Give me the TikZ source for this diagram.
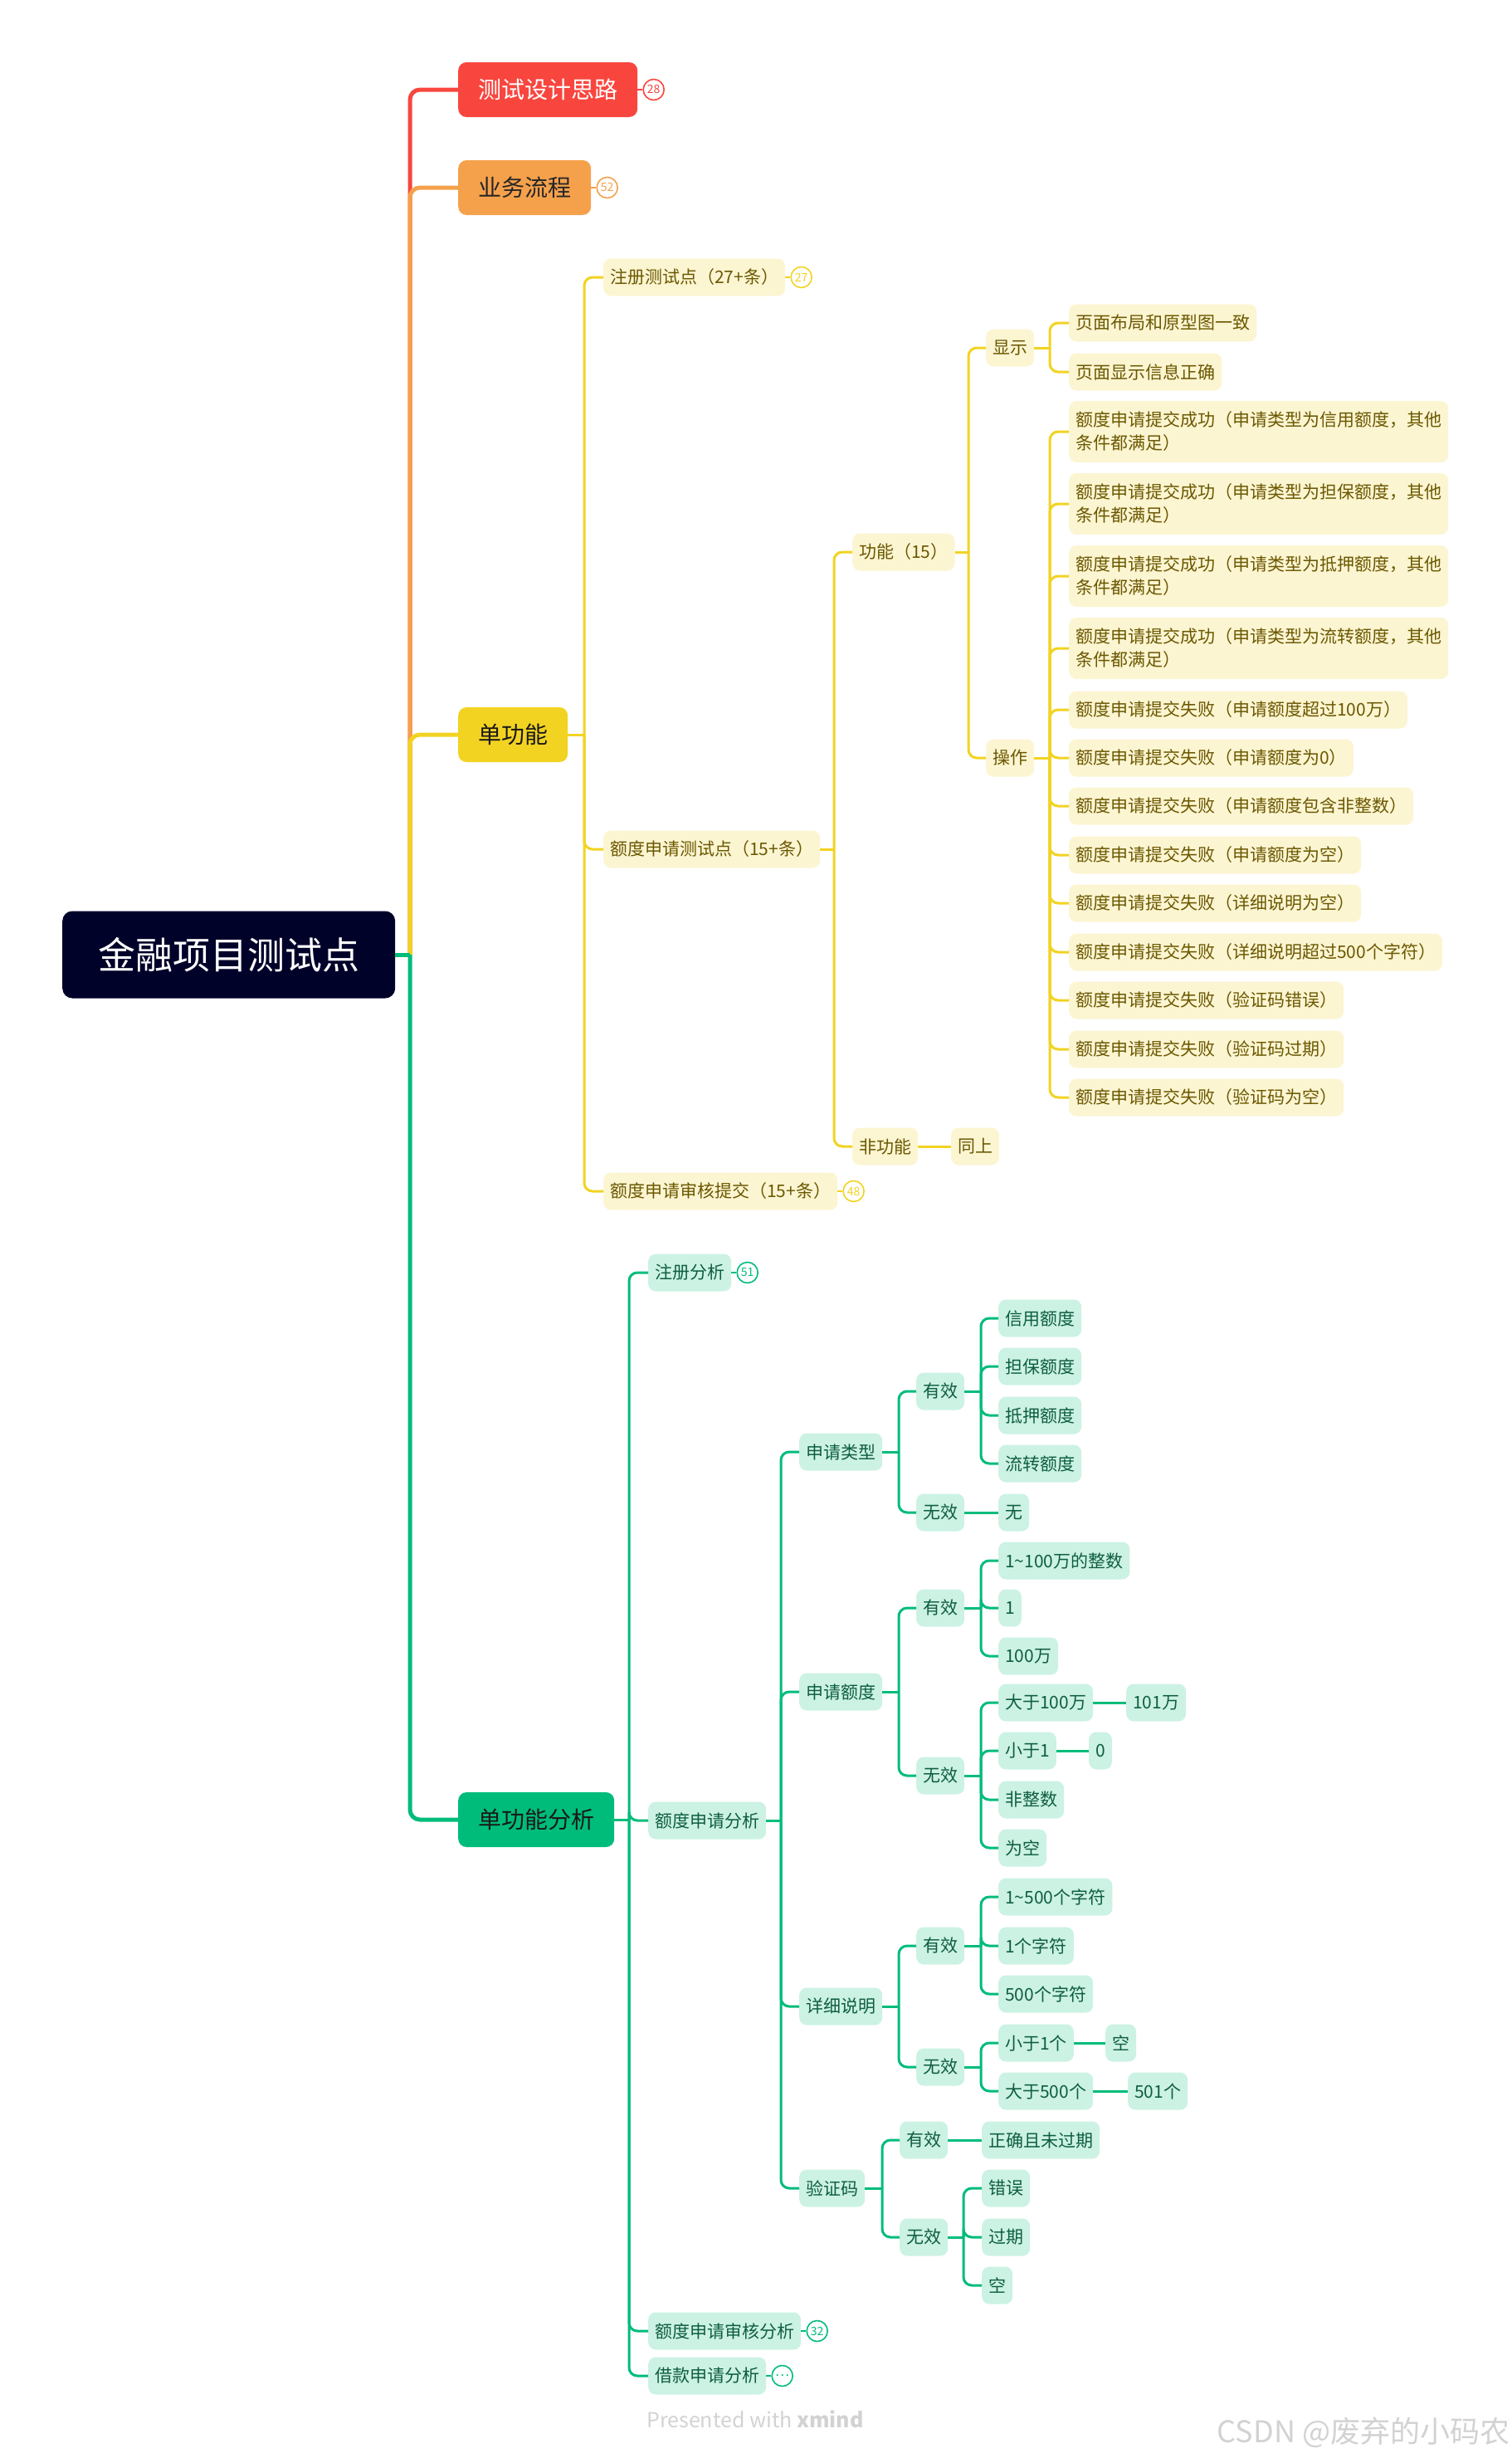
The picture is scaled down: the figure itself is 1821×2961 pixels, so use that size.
\documentclass[tikz,border=0pt]{standalone}
\usepackage{fontspec}
\setmainfont{Noto Sans CJK SC}
\usetikzlibrary{positioning}

\definecolor{rootc}{HTML}{000229}
\definecolor{redc}{HTML}{F8463F}
\definecolor{orgc}{HTML}{F5A14C}
\definecolor{ylwc}{HTML}{F2D322}
\definecolor{grnc}{HTML}{00BC7B}
\definecolor{yfill}{HTML}{FCF5D2}
\definecolor{ytext}{HTML}{6B5800}
\definecolor{gfill}{HTML}{CCF2E4}
\definecolor{gtext}{HTML}{0E5E41}
\definecolor{footc}{HTML}{D2D2D2}

\tikzset{
  every node/.style={font=\fontsize{21}{28}\selectfont},
  rootbox/.style={anchor=west, fill=rootc, text=white, rounded corners=12, minimum height=105, inner xsep=43, font=\fontsize{45}{54}\selectfont},
  mtopic/.style={anchor=west, fill=#1, rounded corners=10, minimum height=66, inner xsep=24, font=\fontsize{28}{34}\selectfont},
  ybox/.style={anchor=west, fill=yfill, text=ytext, rounded corners=9, minimum height=45, inner xsep=8, inner ysep=4},
  ymulti/.style={ybox, align=left, minimum height=74},
  gbox/.style={anchor=west, fill=gfill, text=gtext, rounded corners=9, minimum height=45, inner xsep=8, inner ysep=4},
  badge/.style={circle, draw=#1, fill=white, text=#1, line width=1.6, minimum size=25, inner sep=0, font=\fontsize{14}{14}\selectfont},
  mline/.style={draw=#1, line width=5, rounded corners=12},
  yline/.style={draw=ylwc, line width=3, rounded corners=10},
  gline/.style={draw=grnc, line width=3, rounded corners=10}
}

\begin{document}
\begin{tikzpicture}[x=1pt,y=-1pt]
\useasboundingbox (0,0) rectangle (1821,2961);

% root and main topics
\node[rootbox] (fin) at (75,1150) {金融项目测试点};
\node[mtopic=redc, text=white] (tsd) at (552,108) {测试设计思路};
\node[mtopic=orgc, text=black!85] (ywlc) at (552,226) {业务流程};
\node[mtopic=ylwc, text=black!90] (dgn) at (552,885) {单功能};
\node[mtopic=grnc, text=black!90] (dgnfx) at (552,2192) {单功能分析};
\node[badge=redc, right=6pt of tsd] (b28) {28};
\node[badge=orgc, right=6pt of ywlc] (b52) {52};

\coordinate (finj) at (494,1150);
\draw[mline=redc] (finj) |- (tsd.west);
\draw[mline=orgc] (finj) |- (ywlc.west);
\draw[mline=ylwc] (finj) |- (dgn.west);
\draw[mline=grnc] (finj) |- (dgnfx.west);
\draw[draw=grnc, line width=5] (fin.east) -- (finj);
\draw[draw=redc, line width=2.5] (tsd.east) -- (b28);
\draw[draw=orgc, line width=2.5] (ywlc.east) -- (b52);

% 单功能
\node[ybox] (zcc) at (727,334) {注册测试点（27+条）};
\node[ybox] (edc) at (727,1023) {额度申请测试点（15+条）};
\node[ybox] (eds) at (727,1435) {额度申请审核提交（15+条）};
\node[badge=ylwc, right=6pt of zcc] (b27) {27};
\node[badge=ylwc, right=6pt of eds] (b48) {48};
\draw[draw=ylwc, line width=2.5] (zcc.east) -- (b27);
\draw[draw=ylwc, line width=2.5] (eds.east) -- (b48);

\node[ybox] (gn) at (1027,665) {功能（15）};
\node[ybox] (fgn) at (1027,1381) {非功能};
\node[ybox] (ts) at (1146,1381) {同上};
\node[ybox] (xs) at (1188,419) {显示};
\node[ybox] (cz) at (1188,913) {操作};

\node[ybox] (xs1) at (1288,389) {页面布局和原型图一致};
\node[ybox] (xs2) at (1288,448) {页面显示信息正确};

\node[ymulti] (cz1) at (1288,520) {额度申请提交成功（申请类型为信用额度，其他\\条件都满足）};
\node[ymulti] (cz2) at (1288,607) {额度申请提交成功（申请类型为担保额度，其他\\条件都满足）};
\node[ymulti] (cz3) at (1288,694) {额度申请提交成功（申请类型为抵押额度，其他\\条件都满足）};
\node[ymulti] (cz4) at (1288,781) {额度申请提交成功（申请类型为流转额度，其他\\条件都满足）};
\node[ybox] (cz5) at (1288,855) {额度申请提交失败（申请额度超过100万）};
\node[ybox] (cz6) at (1288,913) {额度申请提交失败（申请额度为0）};
\node[ybox] (cz7) at (1288,971) {额度申请提交失败（申请额度包含非整数）};
\node[ybox] (cz8) at (1288,1030) {额度申请提交失败（申请额度为空）};
\node[ybox] (cz9) at (1288,1088) {额度申请提交失败（详细说明为空）};
\node[ybox] (cz10) at (1288,1147) {额度申请提交失败（详细说明超过500个字符）};
\node[ybox] (cz11) at (1288,1205) {额度申请提交失败（验证码错误）};
\node[ybox] (cz12) at (1288,1264) {额度申请提交失败（验证码过期）};
\node[ybox] (cz13) at (1288,1322) {额度申请提交失败（验证码为空）};

\coordinate (dgnj) at (704,885);
\coordinate (edcj) at (1005,1023);
\coordinate (gnj) at (1167,665);
\coordinate (xsj) at (1265,419);
\coordinate (czj) at (1265,913);
\draw[yline] (dgn.east) -- (dgnj);
\foreach \c in {zcc,edc,eds} \draw[yline] (dgnj) |- (\c.west);
\draw[yline] (edc.east) -- (edcj);
\foreach \c in {gn,fgn} \draw[yline] (edcj) |- (\c.west);
\draw[yline] (gn.east) -- (gnj);
\foreach \c in {xs,cz} \draw[yline] (gnj) |- (\c.west);
\draw[yline] (xs.east) -- (xsj);
\foreach \c in {xs1,xs2} \draw[yline] (xsj) |- (\c.west);
\draw[yline] (cz.east) -- (czj);
\foreach \c in {cz1,cz2,cz3,cz4,cz5,cz6,cz7,cz8,cz9,cz10,cz11,cz12,cz13} \draw[yline] (czj) |- (\c.west);
\draw[yline] (fgn) -- (ts);

% 单功能分析
\node[gbox] (zcfx) at (781,1533) {注册分析};
\node[gbox] (edfx) at (781,2193) {额度申请分析};
\node[gbox] (edsh) at (781,2808) {额度申请审核分析};
\node[gbox] (jkfx) at (781,2862) {借款申请分析};
\node[badge=grnc, right=6pt of zcfx] (b51) {51};
\node[badge=grnc, right=6pt of edsh] (b32) {32};
\node[badge=grnc, right=6pt of jkfx, font=\fontsize{16}{16}\selectfont] (bmore) {…};
\draw[draw=grnc, line width=2.5] (zcfx.east) -- (b51);
\draw[draw=grnc, line width=2.5] (edsh.east) -- (b32);
\draw[draw=grnc, line width=2.5] (jkfx.east) -- (bmore);

\node[gbox] (sqlx) at (963,1749) {申请类型};
\node[gbox] (sqed) at (963,2038) {申请额度};
\node[gbox] (xxsm) at (963,2417) {详细说明};
\node[gbox] (yzm) at (963,2636) {验证码};

\node[gbox] (lxyx) at (1104,1676) {有效};
\node[gbox] (lxwx) at (1104,1822) {无效};
\node[gbox] (lxyx1) at (1203,1588) {信用额度};
\node[gbox] (lxyx2) at (1203,1646) {担保额度};
\node[gbox] (lxyx3) at (1203,1705) {抵押额度};
\node[gbox] (lxyx4) at (1203,1763) {流转额度};
\node[gbox] (lxwx1) at (1203,1822) {无};

\node[gbox] (edyx) at (1104,1937) {有效};
\node[gbox] (edwx) at (1104,2139) {无效};
\node[gbox] (edyx1) at (1203,1880) {1\textasciitilde100万的整数};
\node[gbox] (edyx2) at (1203,1937) {1};
\node[gbox] (edyx3) at (1203,1995) {100万};
\node[gbox] (edwx1) at (1203,2051) {大于100万};
\node[gbox] (edwx1b) at (1357,2051) {101万};
\node[gbox] (edwx2) at (1203,2109) {小于1};
\node[gbox] (edwx2b) at (1312,2109) {0};
\node[gbox] (edwx3) at (1203,2168) {非整数};
\node[gbox] (edwx4) at (1203,2226) {为空};

\node[gbox] (smyx) at (1104,2344) {有效};
\node[gbox] (smwx) at (1104,2490) {无效};
\node[gbox] (smyx1) at (1203,2285) {1\textasciitilde500个字符};
\node[gbox] (smyx2) at (1203,2344) {1个字符};
\node[gbox] (smyx3) at (1203,2402) {500个字符};
\node[gbox] (smwx1) at (1203,2461) {小于1个};
\node[gbox] (smwx1b) at (1332,2461) {空};
\node[gbox] (smwx2) at (1203,2519) {大于500个};
\node[gbox] (smwx2b) at (1359,2519) {501个};

\node[gbox] (mayx) at (1084,2578) {有效};
\node[gbox] (mawx) at (1084,2695) {无效};
\node[gbox] (mayx1) at (1183,2578) {正确且未过期};
\node[gbox] (mawx1) at (1183,2636) {错误};
\node[gbox] (mawx2) at (1183,2695) {过期};
\node[gbox] (mawx3) at (1183,2753) {空};

\coordinate (dgnfxj) at (758,2192);
\coordinate (edfxj) at (941,2193);
\coordinate (sqlxj) at (1083,1749);
\coordinate (lxyxj) at (1182,1676);
\coordinate (sqedj) at (1083,2038);
\coordinate (edyxj) at (1182,1937);
\coordinate (edwxj) at (1182,2139);
\coordinate (xxsmj) at (1083,2417);
\coordinate (smyxj) at (1182,2344);
\coordinate (smwxj) at (1182,2490);
\coordinate (yzmj) at (1063,2636);
\coordinate (mawxj) at (1161,2695);

\draw[gline] (dgnfx.east) -- (dgnfxj);
\foreach \c in {zcfx,edfx,edsh,jkfx} \draw[gline] (dgnfxj) |- (\c.west);
\draw[gline] (edfx.east) -- (edfxj);
\foreach \c in {sqlx,sqed,xxsm,yzm} \draw[gline] (edfxj) |- (\c.west);
\draw[gline] (sqlx.east) -- (sqlxj);
\foreach \c in {lxyx,lxwx} \draw[gline] (sqlxj) |- (\c.west);
\draw[gline] (lxyx.east) -- (lxyxj);
\foreach \c in {lxyx1,lxyx2,lxyx3,lxyx4} \draw[gline] (lxyxj) |- (\c.west);
\draw[gline] (lxwx) -- (lxwx1);
\draw[gline] (sqed.east) -- (sqedj);
\foreach \c in {edyx,edwx} \draw[gline] (sqedj) |- (\c.west);
\draw[gline] (edyx.east) -- (edyxj);
\foreach \c in {edyx1,edyx2,edyx3} \draw[gline] (edyxj) |- (\c.west);
\draw[gline] (edwx.east) -- (edwxj);
\foreach \c in {edwx1,edwx2,edwx3,edwx4} \draw[gline] (edwxj) |- (\c.west);
\draw[gline] (edwx1) -- (edwx1b);
\draw[gline] (edwx2) -- (edwx2b);
\draw[gline] (xxsm.east) -- (xxsmj);
\foreach \c in {smyx,smwx} \draw[gline] (xxsmj) |- (\c.west);
\draw[gline] (smyx.east) -- (smyxj);
\foreach \c in {smyx1,smyx2,smyx3} \draw[gline] (smyxj) |- (\c.west);
\draw[gline] (smwx.east) -- (smwxj);
\foreach \c in {smwx1,smwx2} \draw[gline] (smwxj) |- (\c.west);
\draw[gline] (smwx1) -- (smwx1b);
\draw[gline] (smwx2) -- (smwx2b);
\draw[gline] (yzm.east) -- (yzmj);
\foreach \c in {mayx,mawx} \draw[gline] (yzmj) |- (\c.west);
\draw[gline] (mayx) -- (mayx1);
\draw[gline] (mawx.east) -- (mawxj);
\foreach \c in {mawx1,mawx2,mawx3} \draw[gline] (mawxj) |- (\c.west);

% footer
\node[text=footc, font=\fontsize{25}{30}\selectfont] (pwx) at (910,2914) {Presented with \textbf{xmind}};
\node[text=footc, font=\fontsize{36}{40}\selectfont] (csdn) at (1643,2930) {CSDN @废弃的小码农};
\end{tikzpicture}
\end{document}
